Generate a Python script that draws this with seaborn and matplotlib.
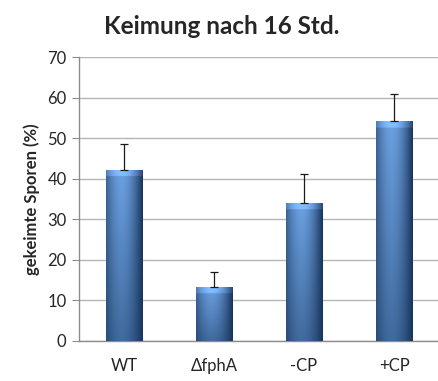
import numpy as np
import pandas as pd
import matplotlib
matplotlib.use("Agg")
import matplotlib.pyplot as plt
import seaborn as sns

# data
strains = ["WT", "ΔfphA", "-CP", "+CP"]
keimung = [42.1, 13.3, 34.0, 54.2]
fehler = [6.4, 3.7, 7.1, 6.6]
yticks = [0, 10, 20, 30, 40, 50, 60, 70]

df = pd.DataFrame({"strain": strains, "pct": keimung})

sns.set_style("white")
plt.rcParams["font.family"] = ["Lato", "DejaVu Sans"]

fig = plt.figure(figsize=(4.39, 3.81), dpi=100)
ax = fig.add_axes([0.18, 0.105, 0.82, 0.745])

sns.barplot(data=df, x="strain", y="pct", color="#4f81bd", width=0.41,
            saturation=1, errorbar=None, ax=ax, zorder=3)

# gradient fill for each bar (imitates the bevelled Excel look)
light = np.array([0.42, 0.63, 0.88])
dark = np.array([0.09, 0.20, 0.35])
for bar in ax.patches:
    x0, y0 = bar.get_x(), bar.get_y()
    w, h = bar.get_width(), bar.get_height()
    nx, ny = 60, 200
    u = np.linspace(0, 1, nx)[None, :]
    v = np.linspace(0, 1, ny)[:, None]  # 0 = top, 1 = bottom
    horiz = 1 - np.clip(np.abs(u - 0.42) / 0.58, 0, 1) ** 1.8
    vert = 1 - 0.5 * v
    t = np.clip(horiz * vert, 0, 1)
    img = dark[None, None, :] + (light - dark)[None, None, :] * t[..., None]
    # lighter bevel at top
    bev_px = 6.0 / (h * 4.06) if h > 0 else 0
    top = v < bev_px
    img[top[:, 0], :, :] = np.clip(img[top[:, 0], :, :] * 1.12 + 0.05, 0, 1)
    im = ax.imshow(img, extent=[x0, x0 + w, y0, y0 + h], aspect="auto",
                   zorder=3, interpolation="bilinear")
    im.set_clip_path(bar)
    bar.set_facecolor("none")
    bar.set_edgecolor("#1c3350")
    bar.set_linewidth(0.6)

ax.errorbar(range(len(strains)), keimung,
            yerr=[np.zeros(len(fehler)), fehler],
            fmt="none", ecolor="#1a1a1a", elinewidth=0.9, capsize=3, capthick=0.9,
            zorder=4)

ax.set_xlim(-0.5, 3.5)
ax.set_ylim(0, 70)
ax.set_yticks(yticks)
ax.yaxis.grid(True, color="#b5b5b5", linewidth=1)
ax.set_axisbelow(True)

for side in ["top", "right"]:
    ax.spines[side].set_visible(False)
for side in ["left", "bottom"]:
    ax.spines[side].set_color("#8c8c8c")
    ax.spines[side].set_linewidth(1)

ax.set_xticks(np.arange(-0.5, 4.0, 1.0), minor=True)
ax.tick_params(axis="x", which="major", length=0, pad=12, labelsize=12)
ax.tick_params(axis="x", which="minor", length=5, color="#8c8c8c", direction="out")
ax.tick_params(axis="y", length=5, color="#8c8c8c", direction="out",
               labelsize=12, left=True, pad=4)

ax.set_xlabel("")
ax.set_ylabel("gekeimte Sporen (%)", fontsize=12, fontweight="bold", labelpad=5)
fig.text(0.505, 0.93, "Keimung nach 16 Std.", ha="center", va="center",
         fontsize=17.5, fontweight="bold")

fig.savefig("out.png", dpi=100)
